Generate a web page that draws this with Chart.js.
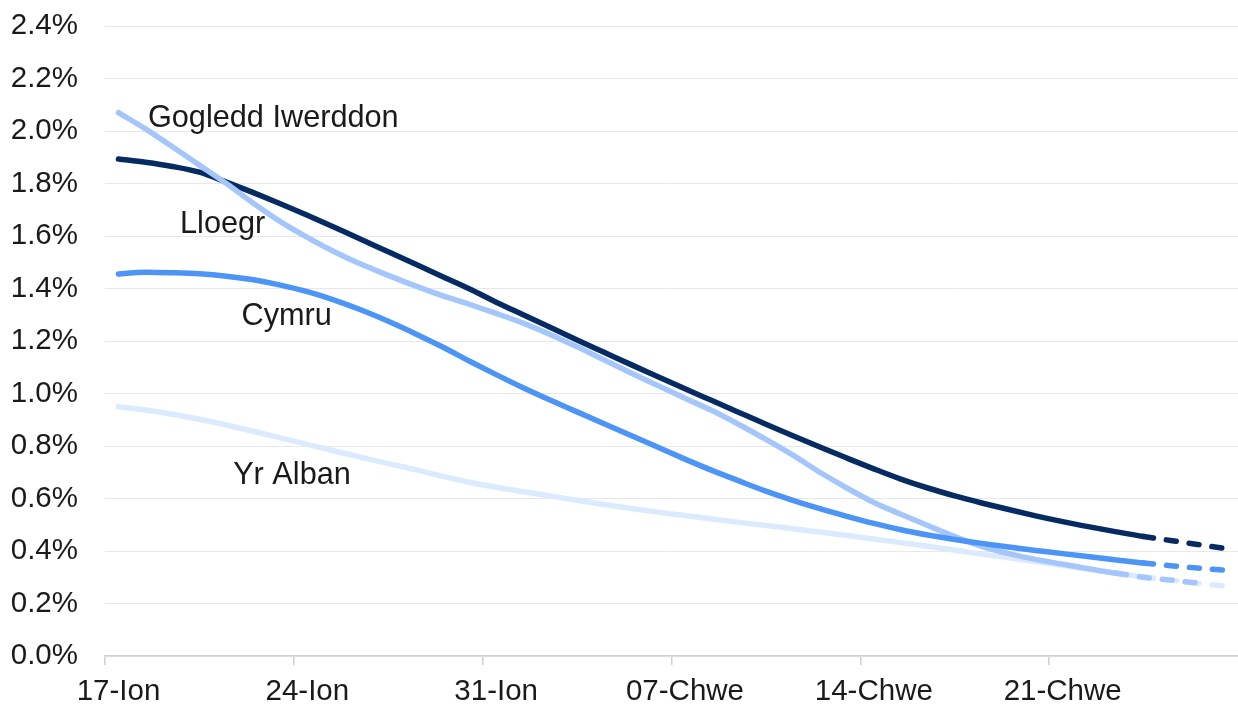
<!DOCTYPE html>
<html>
<head>
<meta charset="utf-8">
<script src="https://cdn.jsdelivr.net/npm/chart.js@4.4.1/dist/chart.umd.min.js"></script>
<style>
  html, body { margin: 0; padding: 0; background: #fff; }
  #wrap { width: 1238px; height: 704px; position: relative; }
</style>
</head>
<body>
<div id="wrap"><canvas id="c"></canvas></div>
<script>
var days = [
  "17-Ion", "18-Ion", "19-Ion", "20-Ion", "21-Ion", "22-Ion", "23-Ion",
  "24-Ion", "25-Ion", "26-Ion", "27-Ion", "28-Ion", "29-Ion", "30-Ion",
  "31-Ion", "01-Chwe", "02-Chwe", "03-Chwe", "04-Chwe", "05-Chwe", "06-Chwe",
  "07-Chwe", "08-Chwe", "09-Chwe", "10-Chwe", "11-Chwe", "12-Chwe", "13-Chwe",
  "14-Chwe", "15-Chwe", "16-Chwe", "17-Chwe", "18-Chwe", "19-Chwe", "20-Chwe",
  "21-Chwe", "22-Chwe", "23-Chwe", "24-Chwe", "25-Chwe", "26-Chwe", "27-Chwe"
];

// percentages
var lloegr = [
  1.893, 1.881, 1.865, 1.843, 1.805, 1.765, 1.723, 1.679, 1.633, 1.587,
  1.54, 1.493, 1.446, 1.399, 1.348, 1.30, 1.252, 1.204, 1.157, 1.11,
  1.064, 1.018, 0.973, 0.928, 0.883, 0.839, 0.796, 0.754, 0.713, 0.674,
  0.64, 0.61, 0.583, 0.558, 0.534, 0.512, 0.492, 0.473, 0.455, 0.44,
  0.425, 0.41
];
var gogleddIwerddon = [
  2.07, 2.008, 1.94, 1.87, 1.80, 1.725, 1.655, 1.595, 1.54, 1.492,
  1.45, 1.41, 1.373, 1.34, 1.305, 1.268, 1.225, 1.178, 1.128, 1.078,
  1.03, 0.982, 0.935, 0.882, 0.825, 0.765, 0.70, 0.64, 0.585, 0.54,
  0.497, 0.455, 0.418, 0.39, 0.368, 0.35, 0.332, 0.315, 0.30, 0.289,
  0.278, null
];
var cymru = [
  1.455, 1.462, 1.46, 1.456, 1.447, 1.433, 1.413, 1.388, 1.356, 1.318,
  1.275, 1.228, 1.178, 1.124, 1.072, 1.022, 0.975, 0.93, 0.885, 0.84,
  0.795, 0.75, 0.707, 0.667, 0.628, 0.593, 0.561, 0.532, 0.505, 0.481,
  0.461, 0.444, 0.429, 0.415, 0.402, 0.39, 0.378, 0.366, 0.354, 0.344,
  0.335, 0.327
];
var yrAlban = [
  0.95, 0.937, 0.921, 0.902, 0.88, 0.856, 0.831, 0.806, 0.781, 0.757,
  0.733, 0.71, 0.685, 0.662, 0.643, 0.626, 0.61, 0.593, 0.577, 0.562,
  0.548, 0.535, 0.522, 0.509, 0.497, 0.485, 0.472, 0.459, 0.446, 0.432,
  0.418, 0.403, 0.388, 0.374, 0.36, 0.345, 0.33, 0.315, 0.301, 0.289,
  0.277, 0.267
];

// index where the projection (dashed part) starts
var dashFrom = { lloegr: 38, gogleddIwerddon: 37, cymru: 38, yrAlban: 38 };

var yTicks = { min: 0, max: 2.4, step: 0.2 };

// series names drawn next to the lines: [text, category index, value at baseline]
var seriesLabels = [
  ["Gogledd Iwerddon", 1.09, 2.014],
  ["Lloegr", 2.28, 1.613],
  ["Cymru", 4.56, 1.261],
  ["Yr Alban", 4.25, 0.654]
];

var FONT = '"Liberation Sans", Arial, sans-serif';

function series(label, data, color, from, order) {
  return {
    label: label,
    data: data,
    borderColor: color,
    backgroundColor: color,
    borderWidth: 5.5,
    borderCapStyle: "round",
    borderJoinStyle: "round",
    pointRadius: 0,
    pointHoverRadius: 0,
    cubicInterpolationMode: "monotone",
    fill: false,
    order: order,
    segment: {
      borderDash: function (ctx) {
        return ctx.p0DataIndex >= from ? [10, 13] : undefined;
      }
    }
  };
}

var labelPlugin = {
  id: "seriesLabels",
  afterDatasetsDraw: function (chart) {
    var ctx = chart.ctx;
    var xs = chart.scales.x, ys = chart.scales.y;
    ctx.save();
    ctx.font = "30.7px " + FONT;
    ctx.fillStyle = "#1a1a1a";
    ctx.textAlign = "left";
    ctx.textBaseline = "alphabetic";
    seriesLabels.forEach(function (l) {
      ctx.fillText(l[0], xs.getPixelForValue(l[1]), ys.getPixelForValue(l[2]));
    });
    ctx.restore();
  }
};

var chart = new Chart(document.getElementById("c"), {
  type: "line",
  data: {
    labels: days,
    datasets: [
      series("Lloegr", lloegr, "#062b63", dashFrom.lloegr, 3),
      series("Gogledd Iwerddon", gogleddIwerddon, "#a4c6fb", dashFrom.gogleddIwerddon, 2),
      series("Cymru", cymru, "#4d94f7", dashFrom.cymru, 1),
      series("Yr Alban", yrAlban, "#dbeafd", dashFrom.yrAlban, 4)
    ]
  },
  options: {
    responsive: true,
    maintainAspectRatio: false,
    animation: false,
    layout: { padding: 0 },
    plugins: {
      legend: { display: false },
      tooltip: { enabled: false }
    },
    scales: {
      x: {
        type: "category",
        offset: true,
        grid: {
          offset: true,
          drawOnChartArea: false,
          drawTicks: true,
          tickLength: 9,
          lineWidth: 1.5,
          color: function (ctx) {
            return ctx.index !== undefined && ctx.index % 7 === 0 ? "#d0d0d0" : "rgba(0,0,0,0)";
          }
        },
        border: { display: true, color: "#d0d0d0", width: 1.5 },
        ticks: {
          autoSkip: false,
          maxRotation: 0,
          padding: 9,
          color: "#1a1a1a",
          font: { family: FONT, size: 29.5 },
          callback: function (v, i) { return i % 7 === 0 ? days[i] : ""; }
        },
        afterFit: function (s) { s.height = 48; }
      },
      y: {
        min: yTicks.min,
        max: yTicks.max,
        grid: { color: "#e8e8e8", lineWidth: 1, drawTicks: false },
        border: { display: false },
        ticks: {
          stepSize: yTicks.step,
          padding: 27,
          color: "#1a1a1a",
          font: { family: FONT, size: 29.5 },
          callback: function (v) { return v.toFixed(1) + "%"; }
        },
        afterFit: function (s) { s.width = 105; s.paddingTop = 26; }
      }
    }
  },
  plugins: [labelPlugin]
});
</script>
</body>
</html>
